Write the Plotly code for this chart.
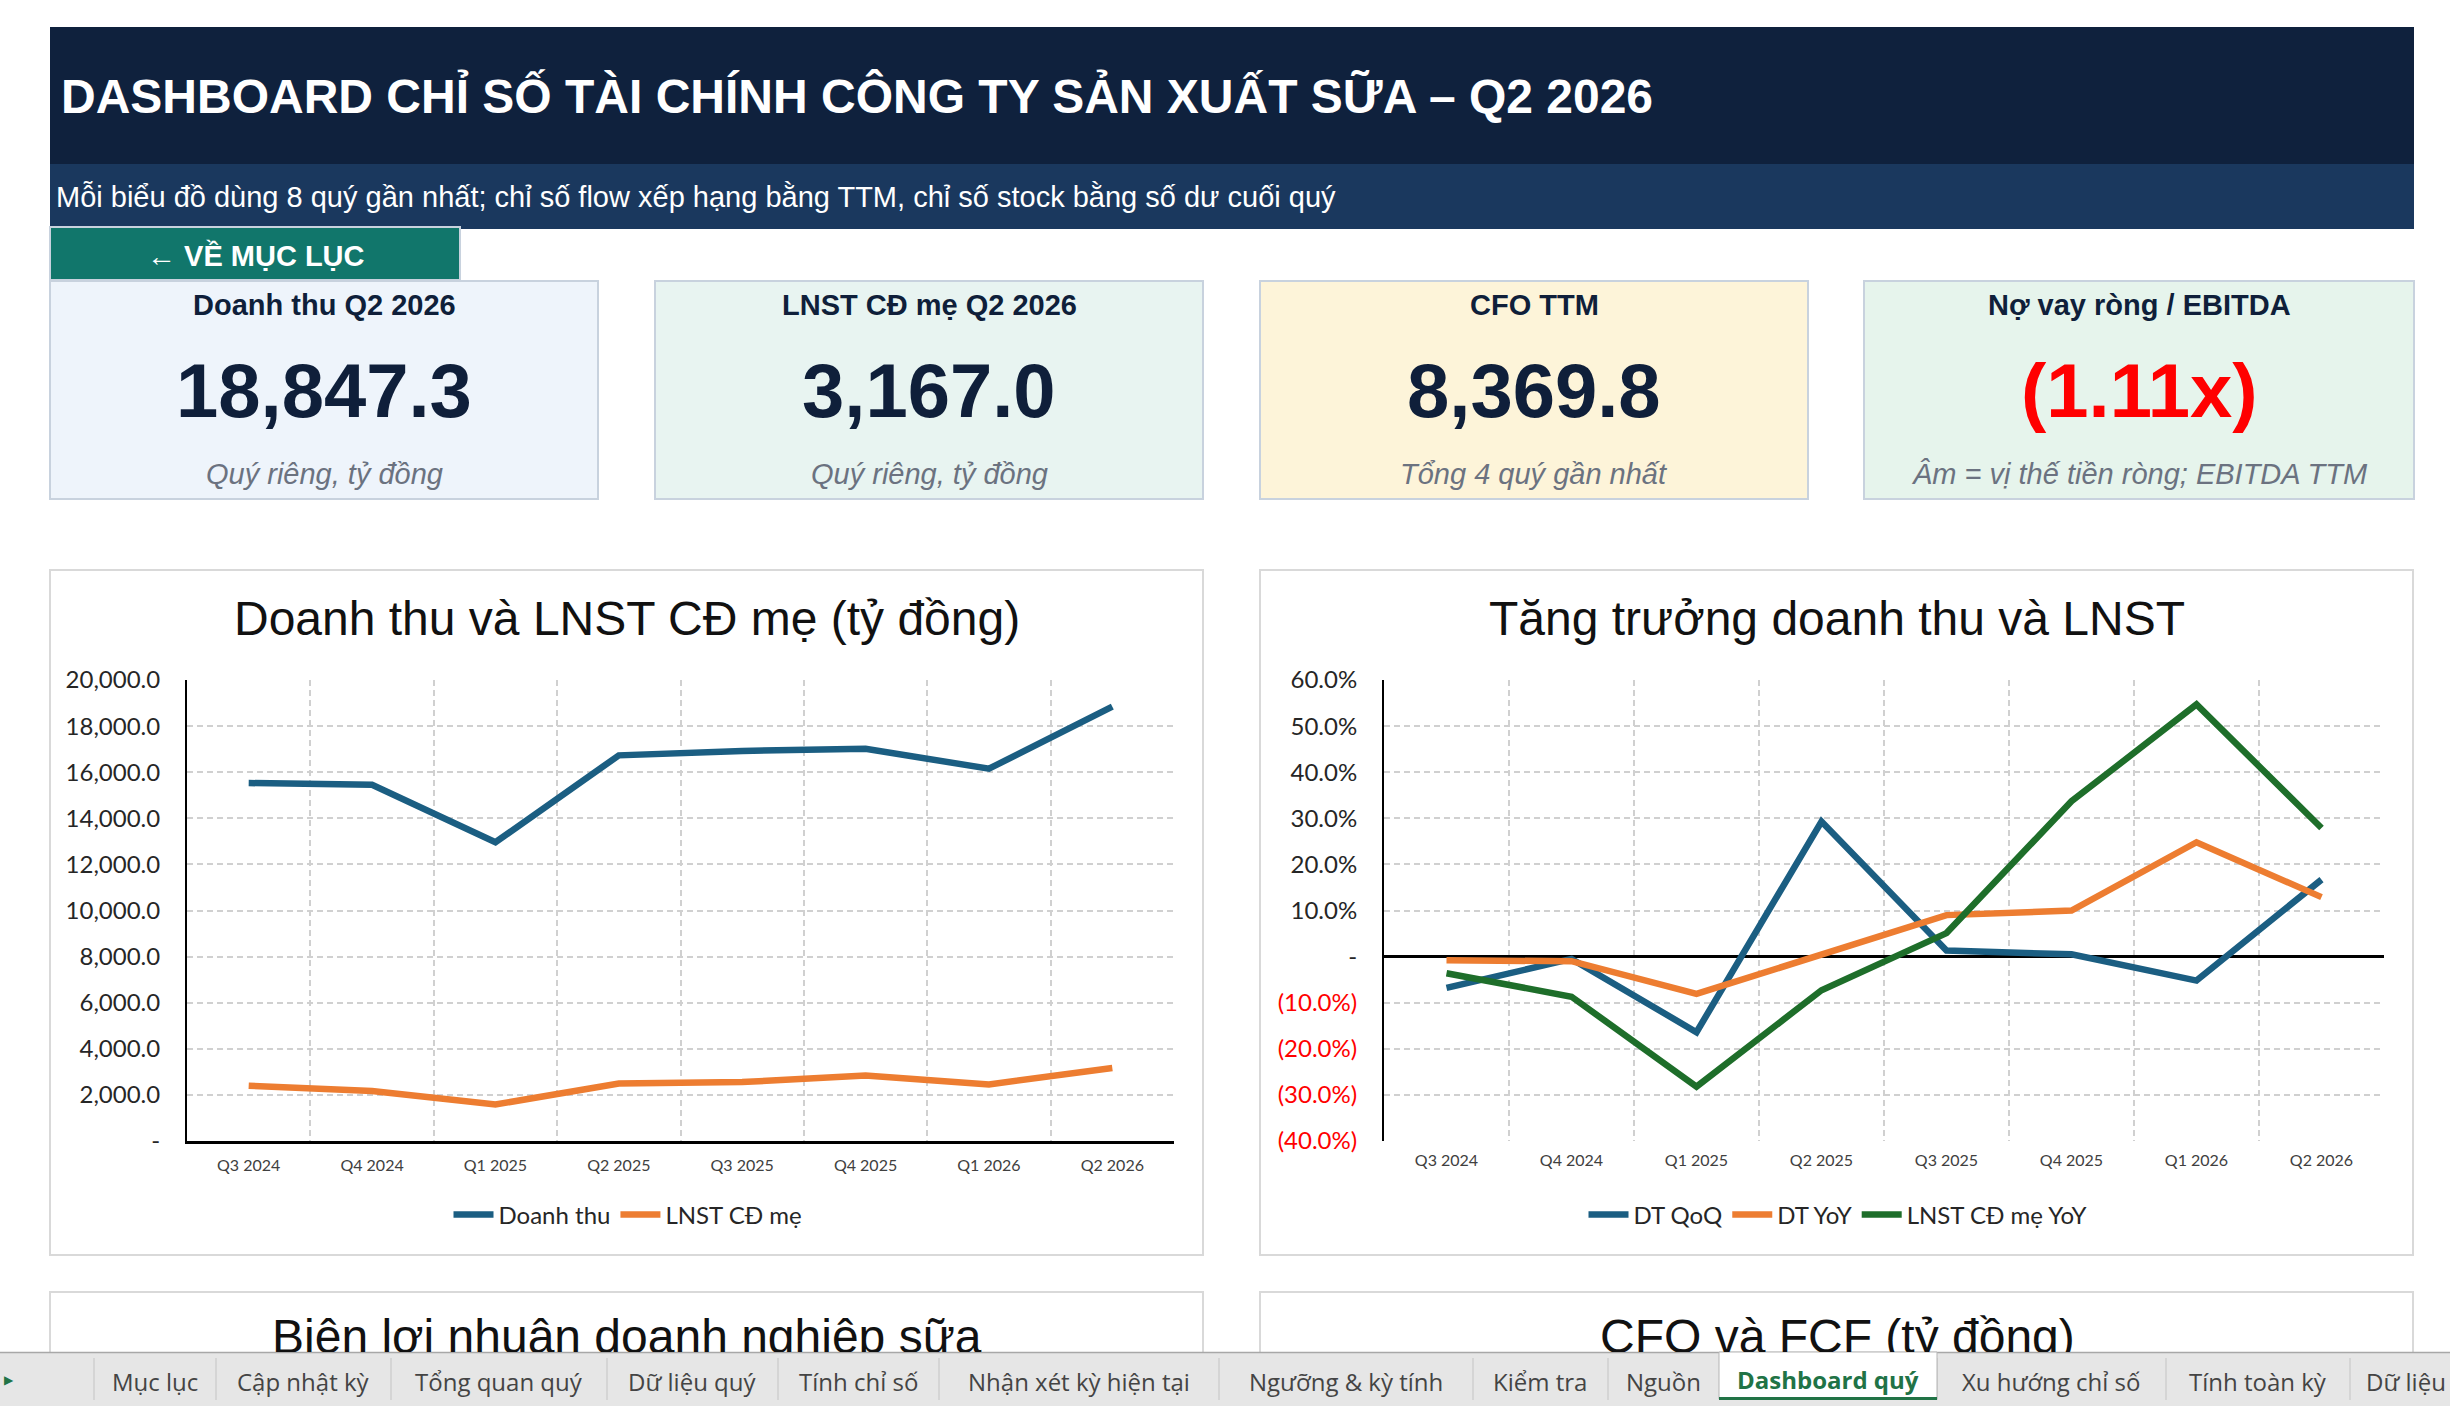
import plotly.graph_objects as go

# ---------------- data ----------------
quarters = ["Q3 2024", "Q4 2024", "Q1 2025", "Q2 2025", "Q3 2025", "Q4 2025", "Q1 2026", "Q2 2026"]
doanh_thu = [15530, 15455, 12960, 16730, 16925, 17020, 16150, 18847.3]
lnst_cd_me = [2400, 2165, 1585, 2495, 2555, 2845, 2455, 3167.0]

dt_qoq = [-6.8, -0.5, -16.4, 29.3, 1.3, 0.5, -5.2, 16.7]
dt_yoy = [-0.8, -1.0, -8.1, 0.4, 9.0, 10.0, 24.8, 12.9]
lnst_yoy = [-3.6, -8.7, -28.2, -7.3, 5.1, 33.7, 54.7, 27.9]

y1_tickvals = [0, 2000, 4000, 6000, 8000, 10000, 12000, 14000, 16000, 18000, 20000]
y1_ticktext = ["-", "2,000.0", "4,000.0", "6,000.0", "8,000.0", "10,000.0", "12,000.0",
               "14,000.0", "16,000.0", "18,000.0", "20,000.0"]
y2_tickvals = [-40, -30, -20, -10, 0, 10, 20, 30, 40, 50, 60]
y2_ticktext = ["(40.0%)", "(30.0%)", "(20.0%)", "(10.0%)", "-", "10.0%", "20.0%",
               "30.0%", "40.0%", "50.0%", "60.0%"]

kpi_titles = ["Doanh thu Q2 2026", "LNST CĐ mẹ Q2 2026", "CFO TTM", "Nợ vay ròng / EBITDA"]
kpi_values = ["18,847.3", "3,167.0", "8,369.8", "(1.11x)"]
kpi_notes = ["Quý riêng, tỷ đồng", "Quý riêng, tỷ đồng", "Tổng 4 quý gần nhất",
             "Âm = vị thế tiền ròng; EBITDA TTM"]

tab_names = ["Mục lục", "Cập nhật kỳ", "Tổng quan quý", "Dữ liệu quý", "Tính chỉ số",
             "Nhận xét kỳ hiện tại", "Ngưỡng & kỳ tính", "Kiểm tra", "Nguồn",
             "Dashboard quý", "Xu hướng chỉ số", "Tính toàn kỳ", "Dữ liệu"]
active_tab = "Dashboard quý"

# ---------------- styling ----------------
W, H = 2450, 1406
def X(p):
    return p / W
def Y(p):
    return 1 - p / H

NAVY = "#0F213D"
BAND = "#1A385E"
TEAL = "#11766B"
BLUE = "#1B5E82"
ORANGE = "#ED7D31"
GREEN = "#1E6E2A"
GRID = "#D0D0D0"
ARIAL = "Liberation Sans, Arial, sans-serif"
CAL = "Lato, Carlito, Calibri, sans-serif"
TABF = "Open Sans, Noto Sans, sans-serif"

fig = go.Figure()

# chart 1 traces
fig.add_trace(go.Scatter(x=quarters, y=doanh_thu, name="Doanh thu", mode="lines",
                         line=dict(color=BLUE, width=6.5), xaxis="x", yaxis="y", legend="legend"))
fig.add_trace(go.Scatter(x=quarters, y=lnst_cd_me, name="LNST CĐ mẹ", mode="lines",
                         line=dict(color=ORANGE, width=6.5), xaxis="x", yaxis="y", legend="legend"))
# chart 2 traces
fig.add_trace(go.Scatter(x=quarters, y=dt_qoq, name="DT QoQ", mode="lines",
                         line=dict(color=BLUE, width=6.5), xaxis="x2", yaxis="y2", legend="legend2"))
fig.add_trace(go.Scatter(x=quarters, y=dt_yoy, name="DT YoY", mode="lines",
                         line=dict(color=ORANGE, width=6.5), xaxis="x2", yaxis="y2", legend="legend2"))
fig.add_trace(go.Scatter(x=quarters, y=lnst_yoy, name="LNST CĐ mẹ YoY", mode="lines",
                         line=dict(color=GREEN, width=6.5), xaxis="x2", yaxis="y2", legend="legend2"))

y_dom = [Y(1141), Y(680)]
xcommon = dict(type="category", tickson="boundaries", showgrid=True, gridcolor=GRID,
               griddash="6px,4px", gridwidth=2, ticks="", range=[-0.5, 7.5],
               tickfont=dict(family=CAL, size=16, color="#404040"),
               ticklabelstandoff=8, fixedrange=True, automargin=False)
ycommon = dict(showgrid=True, gridcolor=GRID, griddash="6px,4px", gridwidth=2, ticks="",
               showline=True, linecolor="#000000", linewidth=2,
               tickfont=dict(family=CAL, size=24, color="#262626"),
               ticklabelstandoff=20, fixedrange=True, automargin=False)

y2_text = [('<span style="color:#FF0000">%s</span>' % t) if v < 0 else t
           for v, t in zip(y2_tickvals, y2_ticktext)]

fig.update_layout(
    width=W, height=H, autosize=False,
    margin=dict(l=0, r=0, t=0, b=0, pad=0, autoexpand=False),
    paper_bgcolor="#FFFFFF", plot_bgcolor="rgba(0,0,0,0)",
    xaxis=dict(domain=[X(187), X(1174)], anchor="y", showline=True, linecolor="#000000",
               linewidth=3, **xcommon),
    yaxis=dict(domain=y_dom, anchor="x", range=[0, 20000], tickvals=y1_tickvals,
               ticktext=y1_ticktext, zeroline=False, **ycommon),
    xaxis2=dict(domain=[X(1384), X(2384)], anchor="y2", showline=False, **xcommon),
    yaxis2=dict(domain=y_dom, anchor="x2", range=[-40, 60], tickvals=y2_tickvals,
                ticktext=y2_text, zeroline=True, zerolinecolor="#000000", zerolinewidth=3,
                **ycommon),
    legend=dict(orientation="h", x=X(628), xanchor="center", y=Y(1215), yanchor="middle",
                font=dict(family=CAL, size=24, color="#262626"), bgcolor="rgba(0,0,0,0)",
                itemwidth=40, tracegroupgap=0),
    legend2=dict(orientation="h", x=X(1838), xanchor="center", y=Y(1215), yanchor="middle",
                 font=dict(family=CAL, size=24, color="#262626"), bgcolor="rgba(0,0,0,0)",
                 itemwidth=40, tracegroupgap=0),
    showlegend=True,
    hovermode=False,
)

# ---------------- shapes ----------------
shapes = []
def rect(x0, y0, x1, y1, fill, line=None, lw=0, layer="below"):
    shapes.append(dict(type="rect", xref="paper", yref="paper", x0=X(x0), x1=X(x1),
                       y0=Y(y1), y1=Y(y0), fillcolor=fill, layer=layer,
                       line=dict(color=line or fill, width=lw)))
def hline(x0, x1, y, color, lw):
    shapes.append(dict(type="line", xref="paper", yref="paper", x0=X(x0), x1=X(x1),
                       y0=Y(y), y1=Y(y), layer="below", line=dict(color=color, width=lw)))
def vline(x, y0, y1, color, lw):
    shapes.append(dict(type="line", xref="paper", yref="paper", x0=X(x), x1=X(x),
                       y0=Y(y1), y1=Y(y0), layer="below", line=dict(color=color, width=lw)))

rect(50, 27, 2414, 164, NAVY)
rect(50, 164, 2414, 229, BAND)
rect(50, 227, 460, 280, TEAL, "#C8D2DE", 2)

card_x = [(50, 598), (655, 1203), (1260, 1808), (1864, 2414)]
card_fill = ["#EEF4FB", "#E8F4F1", "#FDF4D9", "#E6F4EC"]
for (x0, x1), f in zip(card_x, card_fill):
    rect(x0, 281, x1, 499, f, "#C8D2DE", 2)

chart_box_x = [(50, 1203), (1260, 2413)]
for x0, x1 in chart_box_x:
    rect(x0, 570, x1, 1255, "#FFFFFF", "#D9D9D9", 2)
    rect(x0, 1292, x1, 1420, "#FFFFFF", "#D9D9D9", 2)

# sheet tab bar
rect(-5, 1352, 2455, 1410, "#E6E6E6")
hline(-5, 2455, 1352.5, "#A8A8A8", 1.5)
tab_sep = [94, 216, 391, 607, 778, 939, 1219, 1473, 1608, 1937, 2166, 2350]
for sx in tab_sep:
    vline(sx, 1358, 1400, "#C4C4C4", 1)
rect(1719, 1352, 1937, 1399, "#FFFFFF", "#B5B5B5", 1)
rect(1719, 1397, 1937, 1400, "#217346")

fig.update_layout(shapes=shapes)

# ---------------- annotations ----------------
ann = []
def text(x, y, t, size, color, family=ARIAL, xanchor="center", yanchor="middle", **kw):
    ann.append(dict(x=X(x), y=Y(y), xref="paper", yref="paper", text=t, showarrow=False,
                    xanchor=xanchor, yanchor=yanchor,
                    font=dict(family=family, size=size, color=color), **kw))

text(59, 96, "<b>DASHBOARD CHỈ SỐ TÀI CHÍNH CÔNG TY SẢN XUẤT SỮA – Q2 2026</b>", 48,
     "#FFFFFF", xanchor="left")
text(54, 197, "Mỗi biểu đồ dùng 8 quý gần nhất; chỉ số flow xếp hạng bằng TTM, chỉ số stock bằng số dư cuối quý",
     29, "#FFFFFF", xanchor="left")
text(256, 255, "← <b>VỀ MỤC LỤC</b>", 29, "#FFFFFF")

for i, (x0, x1) in enumerate(card_x):
    cx = (x0 + x1) / 2
    text(cx, 305, "<b>%s</b>" % kpi_titles[i], 29, "#0F1F3A")
    vcol = "#FF0000" if kpi_values[i].startswith("(") else "#0F1F3A"
    text(cx, 390, "<b>%s</b>" % kpi_values[i], 76, vcol)
    text(cx, 474, "<i>%s</i>" % kpi_notes[i], 29, "#6B7280")

text(627, 618, "Doanh thu và LNST CĐ mẹ (tỷ đồng)", 48, "#111111")
text(1837, 618, "Tăng trưởng doanh thu và LNST", 48, "#111111")
# titles of the next row of charts, cut off by the sheet-tab bar
for cx, t in [(627, "Biên lợi nhuận doanh nghiệp sữa"), (1837, "CFO và FCF (tỷ đồng)")]:
    text(cx, 1309, t, 48, "#111111", yanchor="top", height=42, valign="top", borderpad=0)

for name, cx in zip(tab_names, [155, 303, 499, 692, 858, 1079, 1346, 1540, 1663, 1828,
                                 2051, 2258, None]):
    if name == active_tab:
        text(cx, 1379, "<b>%s</b>" % name, 24, "#217346", family=TABF)
    elif cx is None:
        text(2364, 1381, name, 24, "#444444", family=TABF, xanchor="left")
    else:
        text(cx, 1381, name, 24, "#444444", family=TABF)

text(9, 1380, "▶", 12, "#217346")

fig.update_layout(annotations=ann)

fig.write_html("out.html", config={"displayModeBar": False, "staticPlot": True},
               post_script="document.body.style.margin='0';document.body.style.overflow='hidden';")
